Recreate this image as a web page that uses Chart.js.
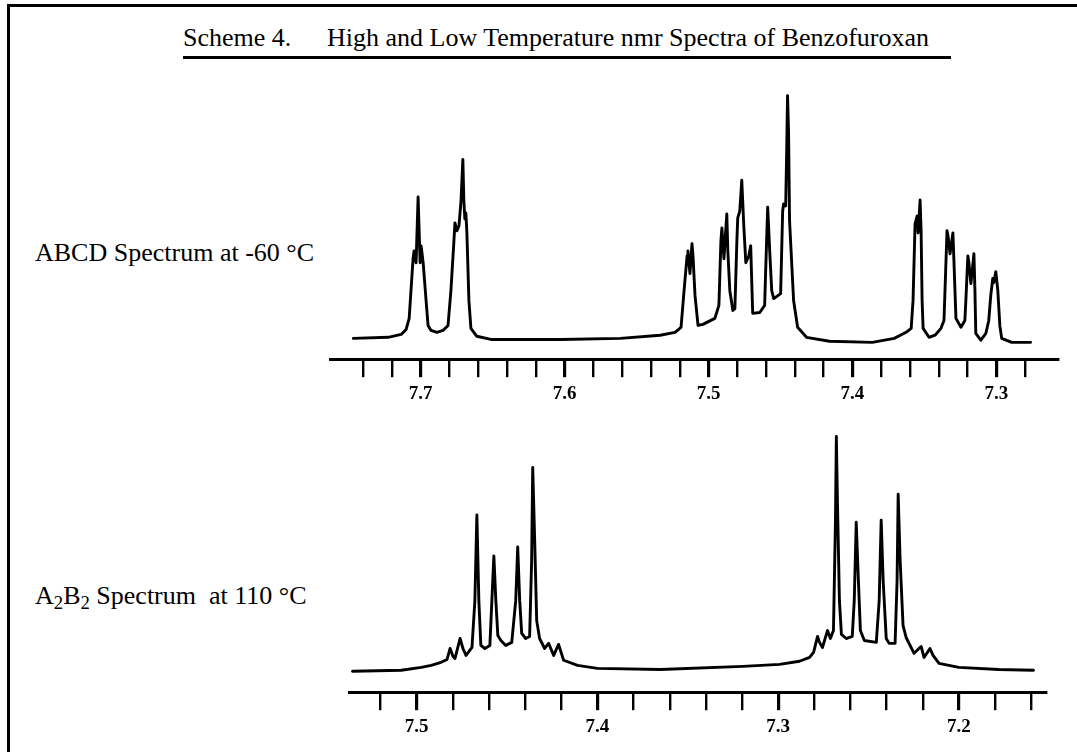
<!DOCTYPE html>
<html><head><meta charset="utf-8">
<script src="https://cdn.jsdelivr.net/npm/chart.js@4/dist/chart.umd.min.js"></script>
<style>
html,body{margin:0;padding:0;background:#fff;}
body{width:1077px;height:752px;position:relative;overflow:hidden;font-family:"Liberation Serif","Times New Roman",serif;color:#000;}
.frameTop{position:absolute;left:7px;top:4px;width:1070px;height:3px;background:#000;}
.frameLeft{position:absolute;left:7px;top:4px;width:3px;height:748px;background:#000;}
.txt{position:absolute;font-size:26px;line-height:26px;white-space:nowrap;}
.uline{position:absolute;left:183px;top:56px;width:768px;height:3px;background:#000;}
.wrap{position:absolute;}
sub{font-size:0.72em;vertical-align:baseline;position:relative;top:0.28em;}
</style>
</head><body>
<div class="frameTop"></div>
<div class="frameLeft"></div>
<div class="txt" style="left:183px;top:25px;">Scheme 4.</div>
<div class="txt" style="left:327px;top:25px;">High and Low Temperature nmr Spectra of Benzofuroxan</div>
<div class="uline"></div>
<div class="txt" style="left:35px;top:240px;">ABCD Spectrum at -60 °C</div>
<div class="txt" style="left:35px;top:583px;">A<sub>2</sub>B<sub>2</sub> Spectrum&nbsp; at 110 °C</div>
<div class="wrap" id="w1" style="left:329px;top:73px;"><canvas id="c1" width="731" height="330"></canvas></div>
<div class="wrap" id="w2" style="left:348px;top:406px;"><canvas id="c2" width="700" height="330"></canvas></div>
<script>
// ---- ABCD spectrum at -60 C (chemical shift, ppm / relative intensity) ----
const topPpm = [7.7468, 7.7226, 7.7136, 7.7101, 7.7080, 7.7053, 7.7046, 7.7032, 7.7018, 7.7004, 7.6997, 7.6983, 7.6949, 7.6928, 7.6887, 7.6845, 7.6810, 7.6790, 7.6769, 7.6762, 7.6748, 7.6734, 7.6720, 7.6707, 7.6700, 7.6693, 7.6686, 7.6679, 7.6665, 7.6651, 7.6610, 7.6513, 7.6028, 7.5613, 7.5336, 7.5233, 7.5191, 7.5170, 7.5149, 7.5143, 7.5129, 7.5115, 7.5108, 7.5094, 7.5073, 7.5039, 7.4956, 7.4928, 7.4914, 7.4907, 7.4893, 7.4873, 7.4866, 7.4852, 7.4831, 7.4817, 7.4803, 7.4797, 7.4783, 7.4769, 7.4755, 7.4741, 7.4720, 7.4707, 7.4700, 7.4693, 7.4644, 7.4610, 7.4603, 7.4589, 7.4575, 7.4561, 7.4547, 7.4499, 7.4485, 7.4478, 7.4464, 7.4457, 7.4451, 7.4444, 7.4437, 7.4409, 7.4381, 7.4319, 7.4160, 7.3862, 7.3710, 7.3627, 7.3592, 7.3579, 7.3565, 7.3551, 7.3544, 7.3530, 7.3523, 7.3516, 7.3509, 7.3468, 7.3426, 7.3385, 7.3364, 7.3357, 7.3343, 7.3336, 7.3322, 7.3302, 7.3295, 7.3281, 7.3246, 7.3219, 7.3212, 7.3205, 7.3198, 7.3191, 7.3177, 7.3156, 7.3149, 7.3143, 7.3108, 7.3073, 7.3053, 7.3039, 7.3025, 7.3018, 7.3004, 7.2990, 7.2976, 7.2963, 7.2893, 7.2762];
const topIntensity = [7.9, 8.3, 9.4, 11.3, 15.5, 38.1, 41.1, 36.6, 61.5, 36.6, 43.0, 36.6, 12.8, 10.9, 10.2, 10.9, 12.8, 26.0, 44.9, 51.7, 48.7, 50.6, 60.0, 75.8, 60.0, 53.2, 55.5, 47.9, 22.3, 11.7, 8.7, 7.5, 7.5, 7.9, 9.1, 10.2, 12.1, 26.0, 39.2, 41.1, 32.5, 43.8, 39.2, 24.2, 12.8, 13.2, 15.5, 20.4, 44.9, 49.8, 38.1, 55.1, 41.1, 26.0, 18.5, 19.2, 44.9, 53.6, 56.2, 67.9, 50.6, 36.6, 39.2, 43.0, 29.8, 17.4, 17.7, 20.4, 33.6, 57.7, 41.1, 26.0, 23.0, 24.9, 56.2, 58.9, 58.1, 78.9, 100, 86.4, 52.5, 22.3, 12.1, 8.3, 6.8, 6.4, 7.9, 10.2, 11.7, 22.3, 51.3, 54.3, 47.9, 60.4, 48.7, 22.3, 11.7, 8.3, 9.1, 11.7, 14.7, 26.0, 48.7, 46.8, 40.0, 47.9, 37.4, 15.5, 12.1, 14.7, 22.3, 30.9, 39.2, 36.6, 28.7, 40.0, 26.0, 9.8, 7.2, 9.8, 14.7, 24.2, 30.6, 29.1, 33.2, 26.0, 12.8, 7.9, 6.4, 6.4];
const topTicks = [7.28, 7.30, 7.32, 7.34, 7.36, 7.38, 7.40, 7.42, 7.44, 7.46, 7.48, 7.50, 7.52, 7.54, 7.56, 7.58, 7.60, 7.62, 7.64, 7.66, 7.68, 7.70, 7.72, 7.74];
const topTickLabels = ['7.3', '7.4', '7.5', '7.6', '7.7'];
const topRange = [7.2568, 7.7627];

// ---- A2B2 spectrum at 110 C ----
const botPpm = [7.5355, 7.5085, 7.4975, 7.4920, 7.4865, 7.4832, 7.4815, 7.4799, 7.4788, 7.4760, 7.4744, 7.4727, 7.4694, 7.4678, 7.4667, 7.4656, 7.4645, 7.4623, 7.4595, 7.4584, 7.4573, 7.4562, 7.4551, 7.4534, 7.4507, 7.4474, 7.4452, 7.4441, 7.4430, 7.4419, 7.4397, 7.4375, 7.4364, 7.4358, 7.4347, 7.4336, 7.4320, 7.4292, 7.4270, 7.4242, 7.4215, 7.4187, 7.4110, 7.4000, 7.3653, 7.3196, 7.2992, 7.2882, 7.2826, 7.2804, 7.2782, 7.2771, 7.2755, 7.2727, 7.2711, 7.2694, 7.2683, 7.2678, 7.2672, 7.2661, 7.2650, 7.2623, 7.2590, 7.2579, 7.2568, 7.2556, 7.2545, 7.2523, 7.2457, 7.2441, 7.2430, 7.2419, 7.2402, 7.2386, 7.2353, 7.2342, 7.2336, 7.2325, 7.2309, 7.2292, 7.2248, 7.2209, 7.2193, 7.2160, 7.2143, 7.2110, 7.2000, 7.1780, 7.1587];
const botIntensity = [8.2, 8.6, 9.7, 10.5, 11.7, 12.8, 17.1, 14.0, 13.2, 21.0, 17.1, 14.4, 17.5, 35.8, 69.3, 35.8, 18.3, 17.1, 18.3, 35.8, 53.3, 35.8, 22.2, 20.2, 18.3, 19.5, 35.8, 56.8, 35.8, 23.0, 21.0, 21.8, 51.4, 87.9, 59.1, 28.0, 21.0, 17.1, 19.1, 14.4, 18.7, 12.5, 10.5, 9.3, 8.9, 10.1, 10.9, 12.1, 13.6, 15.6, 21.8, 19.5, 17.5, 24.1, 21.0, 24.1, 66.9, 100, 74.7, 35.8, 22.6, 21.0, 21.8, 35.8, 66.5, 43.6, 24.1, 20.2, 19.5, 35.8, 67.3, 43.6, 21.0, 19.1, 19.1, 43.6, 77.4, 51.4, 26.1, 21.4, 15.2, 17.9, 13.6, 17.1, 14.4, 11.3, 9.7, 8.9, 8.6];
const botTicks = [7.16, 7.18, 7.20, 7.22, 7.24, 7.26, 7.28, 7.30, 7.32, 7.34, 7.36, 7.38, 7.40, 7.42, 7.44, 7.46, 7.48, 7.50, 7.52];
const botTickLabels = ['7.2', '7.3', '7.4', '7.5'];
const botRange = [7.1515, 7.5372];

// ---- layout (page pixels) ----
const LAYOUT = {
  top: {axisY: 359, peakY: 94},
  bot: {axisY: 692, peakY: 435}
};

function makeChart(canvasId, wrapId, ppm, inten, ticks, labels, range, lay) {
  const isMajor = v => labels.indexOf(Number(v).toFixed(1)) >= 0 && Math.abs(v * 10 - Math.round(v * 10)) < 1e-6;
  const chart = new Chart(document.getElementById(canvasId), {
    type: 'line',
    data: {datasets: [{
      data: ppm.map((p, i) => ({x: p, y: inten[i]})),
      borderColor: '#000', borderWidth: 2.9, pointRadius: 0, tension: 0,
      borderJoinStyle: 'round', borderCapStyle: 'round', fill: false
    }]},
    options: {
      responsive: false, animation: false, events: [],
      layout: {padding: 0},
      plugins: {legend: {display: false}, tooltip: {enabled: false}, title: {display: false}},
      scales: {
        x: {
          type: 'linear', reverse: true, min: range[0], max: range[1],
          afterBuildTicks: s => { s.ticks = ticks.map(v => ({value: v})); },
          ticks: {
            autoSkip: false, maxRotation: 0, minRotation: 0, padding: 5, color: '#000',
            font: {family: 'Liberation Serif', size: 19, weight: 'bold'},
            callback: v => isMajor(v) ? Number(v).toFixed(1) : ''
          },
          grid: {
            drawOnChartArea: false, drawTicks: true, tickLength: 18, color: '#000',
            lineWidth: ctx => (ctx.tick && isMajor(ctx.tick.value)) ? 3.2 : 2.4
          },
          border: {display: true, color: '#000', width: 3}
        },
        y: {display: false, min: 0, max: 110}
      }
    }
  });
  const a = chart.chartArea;
  document.getElementById(wrapId).style.top = (lay.axisY - a.bottom) + 'px';
  chart.options.scales.y.max = 100 * (a.bottom - a.top) / (lay.axisY - lay.peakY);
  chart.update('none');
  return chart;
}

makeChart('c1', 'w1', topPpm, topIntensity, topTicks, topTickLabels, topRange, LAYOUT.top);
makeChart('c2', 'w2', botPpm, botIntensity, botTicks, botTickLabels, botRange, LAYOUT.bot);
</script>
</body></html>
